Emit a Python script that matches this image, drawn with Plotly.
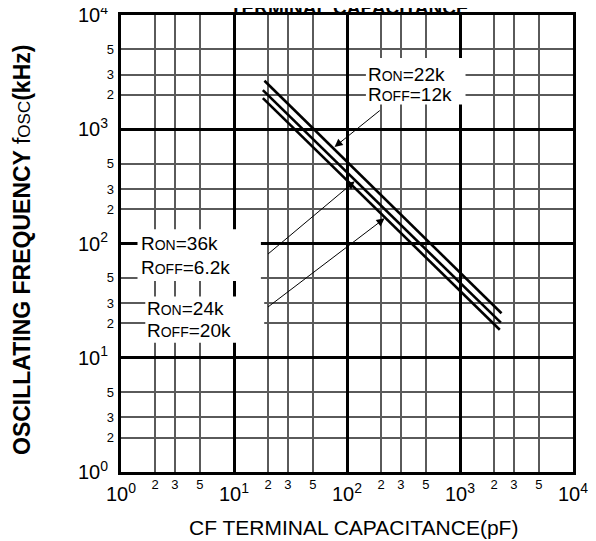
import numpy as np
import plotly.graph_objects as go

# ---- data ----
series_names = ["RON=22k, ROFF=12k", "RON=36k, ROFF=6.2k", "RON=24k, ROFF=20k"]
cap_start = [18.6, 18.0, 18.0]         # pF
cap_end = [2330.0, 2300.0, 2250.0]     # pF
freq_start = [2660.0, 2200.0, 1870.0]  # kHz
freq_end = [24.5, 20.3, 17.6]          # kHz

decade_vals = [1, 10, 100, 1000, 10000]
decade_text = ["10<sup>0</sup>", "10<sup>1</sup>", "10<sup>2</sup>", "10<sup>3</sup>", "10<sup>4</sup>"]
minor_vals = [2, 3, 5, 20, 30, 50, 200, 300, 500, 2000, 3000, 5000]
minor_text = ["2", "3", "5"] * 4

FONT = "Liberation Sans, Arial, sans-serif"
W, H = 596, 541
OFF = 8  # page body margin
ML, MT = 113, 7
PW, PH = 452, 457
MR, MB = W - ML - PW, H - MT - PH


def px_x(p):
    return (p - OFF - ML) / PW


def px_y(p):
    return (MT + PH - (p - OFF)) / PH


fig = go.Figure()
for i in range(3):
    fig.add_trace(go.Scatter(
        x=[cap_start[i], cap_end[i]], y=[freq_start[i], freq_end[i]],
        mode="lines", line=dict(color="black", width=2.6),
        name=series_names[i], showlegend=False, hoverinfo="skip"))

# empty trace carrying the overlay axes used for the 2/3/5 tick labels
fig.add_trace(go.Scatter(x=[], y=[], xaxis="x2", yaxis="y2", showlegend=False))

axis_common = dict(type="log", range=[0, 4], showline=True, mirror=True,
                   linecolor="black", linewidth=3, ticks="", zeroline=False,
                   showgrid=True, gridcolor="black", gridwidth=2.6, automargin=False,
                   ticklabeloverflow="allow")
minor_grid = dict(tickvals=minor_vals, showgrid=True, gridcolor="#5a5a5a",
                  gridwidth=1.5, ticks="")
overlay_common = dict(type="log", range=[0, 4], tickvals=minor_vals, ticktext=minor_text,
                      showgrid=False, showline=False, zeroline=False, ticks="",
                      automargin=False, ticklabeloverflow="allow",
                      tickfont=dict(size=13, family=FONT, color="black"))

fig.update_layout(
    template="none",
    width=W, height=H,
    margin=dict(l=ML, r=MR, t=MT, b=MB, pad=0),
    paper_bgcolor="white", plot_bgcolor="white",
    font=dict(family=FONT, color="black"),
    showlegend=False,
    xaxis=dict(**axis_common, tickvals=decade_vals, ticktext=decade_text,
               tickfont=dict(size=20, family=FONT, color="black"),
               ticklabelstandoff=2, minor=minor_grid),
    yaxis=dict(**axis_common, tickvals=decade_vals, ticktext=decade_text,
               tickfont=dict(size=20, family=FONT, color="black"),
               ticklabelstandoff=6, minor=minor_grid),
    xaxis2=dict(**overlay_common, overlaying="x", anchor="y", side="bottom",
                ticklabelstandoff=3),
    yaxis2=dict(**overlay_common, overlaying="y", anchor="x", side="left",
                ticklabelstandoff=6),
)

# white boxes behind the labels (hide gridlines)
boxes = [(147, 1119, 1650, 4200), (1.40, 17.3, 47, 133), (1.64, 18.5, 13.5, 34.3)]
for x0, x1, y0, y1 in boxes:
    fig.add_shape(type="rect", xref="x", yref="y", x0=x0, x1=x1, y0=y0, y1=y1,
                  fillcolor="white", line=dict(width=0), layer="above")

SM = "<span style='font-size:14px'>{}</span>"
labels = [
    ("R" + SM.format("ON") + "=22k", 2.181, 3.477),
    ("R" + SM.format("OFF") + "=12k", 2.181, 3.301),
    ("R" + SM.format("ON") + "=36k", 0.168, 2.000),
    ("R" + SM.format("OFF") + "=6.2k", 0.164, 1.794),
    ("R" + SM.format("ON") + "=24k", 0.225, 1.435),
    ("R" + SM.format("OFF") + "=20k", 0.225, 1.241),
]
for t, lx, ly in labels:
    fig.add_annotation(text=t, x=lx, y=ly, xref="x", yref="y", showarrow=False,
                       xanchor="left", yanchor="middle", borderpad=0,
                       font=dict(size=19, family=FONT, color="black"))

# arrows: (tip, tail) in data units
arrows = [((77.6, 700), (201, 1493)), ((117, 350), (19.4, 78.9)), ((215, 166), (19.4, 27.2))]
for (tx, ty), (sx, sy) in arrows:
    fig.add_annotation(x=np.log10(tx), y=np.log10(ty), ax=np.log10(sx), ay=np.log10(sy),
                       xref="x", yref="y", axref="x", ayref="y", text="",
                       showarrow=True, arrowhead=2, arrowsize=1.6, arrowwidth=1,
                       arrowcolor="black", standoff=0)

# titles
fig.add_annotation(text="<b>TERMINAL CAPACITANCE</b>", xref="paper", yref="paper",
                   x=px_x(349), y=px_y(7), xanchor="center", yanchor="middle",
                   showarrow=False, font=dict(size=19, family=FONT, color="black"))
fig.add_annotation(text="CF TERMINAL CAPACITANCE(pF)", xref="paper", yref="paper",
                   x=px_x(353), y=px_y(527), xanchor="center", yanchor="middle",
                   showarrow=False, font=dict(size=21, family=FONT, color="black"))
fig.add_annotation(text="<b>OSCILLATING FREQUENCY </b>f<span style='font-size:17px'>OSC</span><b>(kHz)</b>",
                   xref="paper", yref="paper", x=px_x(22), y=px_y(250),
                   xanchor="center", yanchor="middle", textangle=-90,
                   showarrow=False, font=dict(size=23, family=FONT, color="black"))

fig.write_html("out.html")
